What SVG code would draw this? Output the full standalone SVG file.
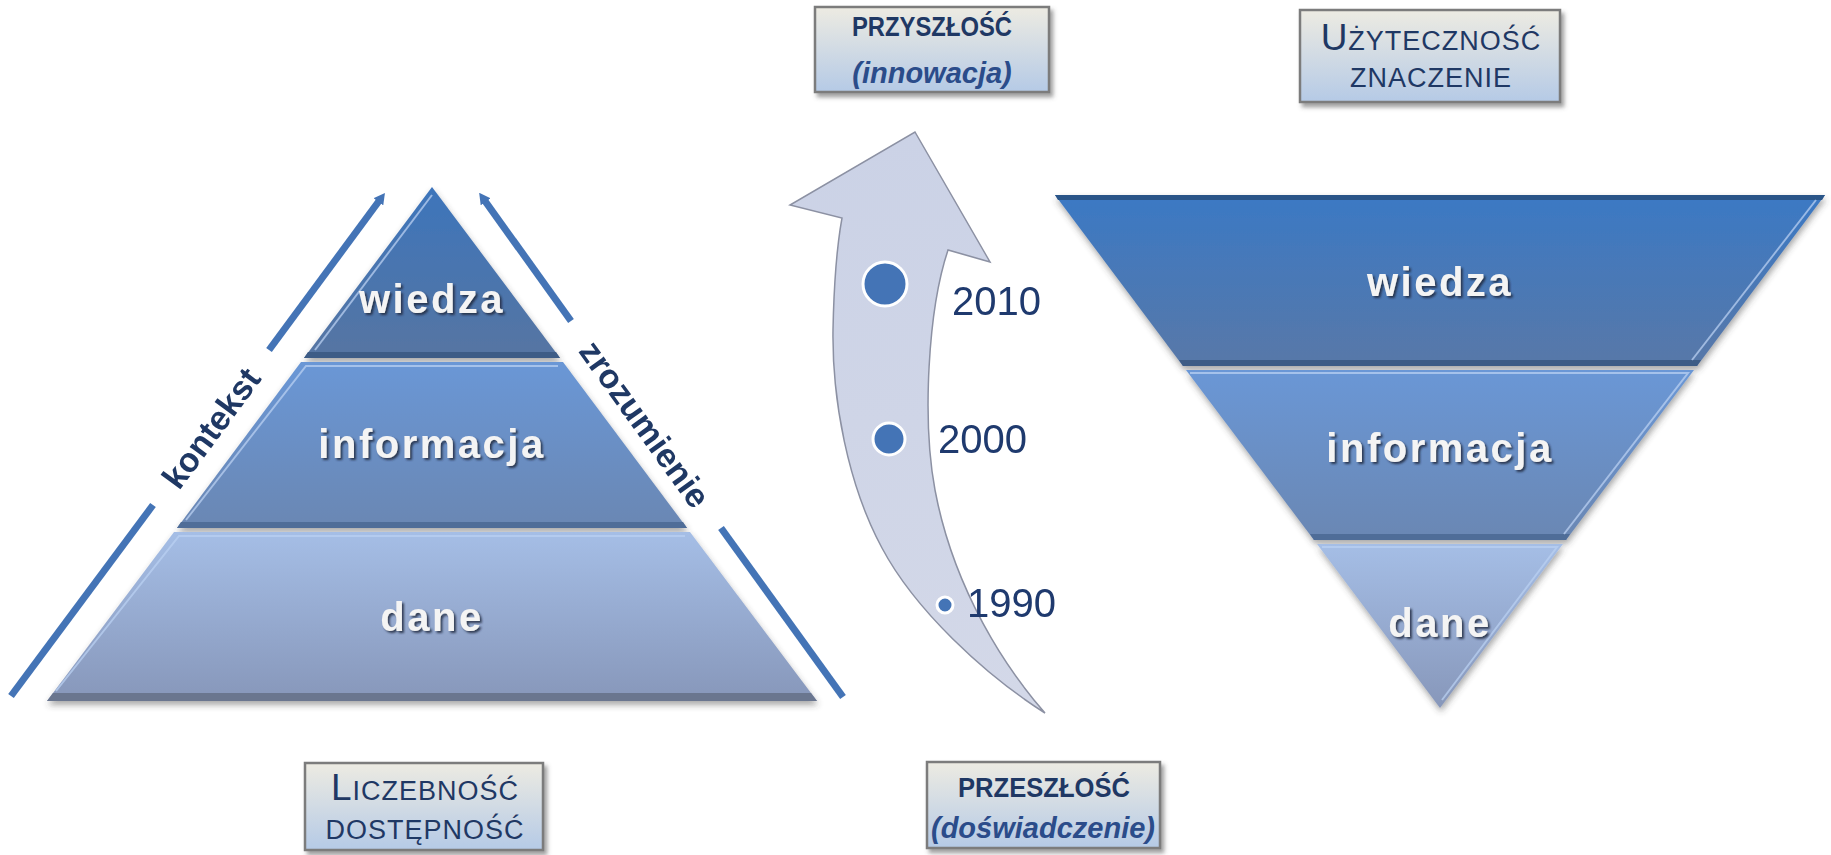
<svg xmlns="http://www.w3.org/2000/svg" width="1831" height="855" viewBox="0 0 1831 855">
<defs>
<linearGradient id="gW" x1="0" y1="0" x2="0" y2="1"><stop offset="0" stop-color="#3d74bb"/><stop offset="1" stop-color="#5675a2"/></linearGradient>
<linearGradient id="gI" x1="0" y1="0" x2="0" y2="1"><stop offset="0" stop-color="#6a97d6"/><stop offset="1" stop-color="#6b87b3"/></linearGradient>
<linearGradient id="gD" x1="0" y1="0" x2="0" y2="1"><stop offset="0" stop-color="#a5bee6"/><stop offset="1" stop-color="#8797ba"/></linearGradient>
<linearGradient id="gW2" x1="0" y1="0" x2="0" y2="1"><stop offset="0" stop-color="#3b79c4"/><stop offset="1" stop-color="#5878a8"/></linearGradient>
<linearGradient id="gBox" x1="0" y1="0" x2="0" y2="1"><stop offset="0" stop-color="#edebe2"/><stop offset="1" stop-color="#b5cae6"/></linearGradient>
<linearGradient id="gArrow" x1="0" y1="0" x2="0" y2="1"><stop offset="0" stop-color="#cbd2e6"/><stop offset="1" stop-color="#d3d8e8"/></linearGradient>
<filter id="shadow" x="-10%" y="-10%" width="125%" height="130%"><feDropShadow dx="1" dy="4" stdDeviation="3" flood-color="#404040" flood-opacity="0.45"/></filter>
<filter id="boxShadow" x="-10%" y="-10%" width="125%" height="135%"><feDropShadow dx="3" dy="4" stdDeviation="2" flood-color="#505050" flood-opacity="0.55"/></filter>
<filter id="txtShadow" x="-10%" y="-20%" width="125%" height="150%"><feDropShadow dx="2" dy="2" stdDeviation="1.3" flood-color="#1c2940" flood-opacity="0.85"/></filter>
<marker id="arrowHead" viewBox="0 -6 11 12" refX="1" refY="0" markerWidth="11" markerHeight="12" markerUnits="userSpaceOnUse" orient="auto"><path d="M0,-6 L11,0 L0,6 z" fill="#4474b6"/></marker>
</defs>
<style>
.tier-label{font-family:"Liberation Sans",Arial,sans-serif;font-weight:bold;font-size:40px;letter-spacing:2.5px;fill:#f4f4f4;text-anchor:middle;filter:url(#txtShadow)}
.side{stroke:#4474b6;stroke-width:7;fill:none}
.side-label{font-family:"Liberation Sans",Arial,sans-serif;font-weight:bold;font-size:34px;fill:#1f3864;text-anchor:middle}
.box{fill:url(#gBox);stroke:#7b7b7b;stroke-width:2.5;filter:url(#boxShadow)}
.bold-cap{font-family:"Liberation Sans",Arial,sans-serif;font-weight:bold;font-size:27px;fill:#1f3864;text-anchor:middle}
.ital{font-family:"Liberation Sans",Arial,sans-serif;font-weight:bold;font-style:italic;font-size:29px;fill:#2b4c8a;text-anchor:middle}
.smallcap{font-family:"Liberation Sans",Arial,sans-serif;font-size:27px;letter-spacing:1px;fill:#1f3864;text-anchor:middle}
.cap{font-size:37px}
.year{font-family:"Liberation Sans",Arial,sans-serif;font-size:40px;fill:#1f3a6e}
.dot{fill:#4474b6;stroke:#ffffff;stroke-width:3}
.hl{fill:none;stroke:#b9d0f2;stroke-width:2;stroke-opacity:0.75}
</style>
<rect width="1831" height="855" fill="#ffffff"/>

<g id="pyramid" filter="url(#shadow)">
  <g id="pyr-wiedza">
    <polygon points="432,187 560,358 304,358" fill="url(#gW)"/>
    <polygon points="308,352 556,352 560,358 304,358" fill="#3d5b86"/>
    <polyline class="hl" points="315,350 432,195"/>
    <text class="tier-label" x="432" y="313">wiedza</text>
  </g>
  <g id="pyr-informacja">
    <polygon points="301,362 563,362 687,528 177,528" fill="url(#gI)"/>
    <polygon points="181,522 683,522 687,528 177,528" fill="#4f6d98"/>
    <polyline class="hl" points="186,520 306,366 558,366"/>
    <text class="tier-label" x="432" y="458">informacja</text>
  </g>
  <g id="pyr-dane">
    <polygon points="174,532 690,532 817,701 47,701" fill="url(#gD)"/>
    <polygon points="53,693 811,693 817,701 47,701" fill="#6b768f"/>
    <polyline class="hl" points="56,691 179,536 685,536"/>
    <text class="tier-label" x="432" y="631">dane</text>
  </g>
</g>

<g id="inverted" filter="url(#shadow)">
  <g id="inv-wiedza">
    <polygon points="1055,195 1825,195 1697,366 1183,366" fill="url(#gW2)"/>
    <polygon points="1055,195 1825,195 1822,200 1058,200" fill="#2c5488"/>
    <polygon points="1179,360 1701,360 1697,366 1183,366" fill="#3d5b86"/>
    <polyline class="hl" points="1816,200 1692,360"/>
    <text class="tier-label" x="1440" y="296">wiedza</text>
  </g>
  <g id="inv-informacja">
    <polygon points="1186,370 1694,370 1566,540 1314,540" fill="url(#gI)"/>
    <polygon points="1310,534 1570,534 1566,540 1314,540" fill="#4f6d98"/>
    <polyline class="hl" points="1190,373 1688,373 1564,534"/>
    <text class="tier-label" x="1440" y="462">informacja</text>
  </g>
  <g id="inv-dane">
    <polygon points="1317,544 1563,544 1440,708" fill="url(#gD)"/>
    <polyline class="hl" points="1322,547 1557,547 1442,700"/>
    <text class="tier-label" x="1440" y="637">dane</text>
  </g>
</g>

<g id="connectors">
  <line class="side" x1="11" y1="696" x2="153" y2="505"/>
  <line class="side" x1="269" y1="350" x2="379" y2="201" marker-end="url(#arrowHead)"/>
  <line class="side" x1="843" y1="697" x2="721" y2="528"/>
  <line class="side" x1="571" y1="321" x2="485" y2="201" marker-end="url(#arrowHead)"/>
  <path id="timeline-arrow" d="M915,132 L990,262 L948,250 C928,310 922,420 935,490 C950,570 990,650 1045,713 C985,675 915,610 882,548 C848,485 832,400 833,330 C834,280 838,240 842,218 L790,205 Z" fill="url(#gArrow)" stroke="#8c91a3" stroke-width="1.5"/>
</g>

<g id="label-kontekst">
  <text class="side-label" transform="translate(211,428) rotate(-53.5)" y="12">kontekst</text>
</g>
<g id="label-zrozumienie">
  <text class="side-label" transform="translate(645,424) rotate(54.2)" y="12">zrozumienie</text>
</g>

<g id="year-2010">
  <circle class="dot" cx="885" cy="284" r="22"/>
  <text class="year" x="952" y="315">2010</text>
</g>
<g id="year-2000">
  <circle class="dot" cx="889" cy="439" r="16"/>
  <text class="year" x="938" y="453">2000</text>
</g>
<g id="year-1990">
  <circle class="dot" cx="945" cy="605" r="8"/>
  <text class="year" x="967" y="617">1990</text>
</g>

<g id="box-przyszlosc">
  <rect class="box" x="815" y="7" width="234" height="85"/>
  <text class="bold-cap" x="932" y="36" textLength="160" lengthAdjust="spacingAndGlyphs">PRZYSZŁOŚĆ</text>
  <text class="ital" x="932" y="83">(innowacja)</text>
</g>
<g id="box-uzytecznosc">
  <rect class="box" x="1300" y="10" width="260" height="92"/>
  <text class="smallcap" x="1431" y="50"><tspan class="cap">U</tspan>ŻYTECZNOŚĆ</text>
  <text class="smallcap" x="1431" y="87">ZNACZENIE</text>
</g>
<g id="box-liczebnosc">
  <rect class="box" x="305" y="763" width="238" height="87"/>
  <text class="smallcap" x="425" y="800"><tspan class="cap">L</tspan>ICZEBNOŚĆ</text>
  <text class="smallcap" x="425" y="839">DOSTĘPNOŚĆ</text>
</g>
<g id="box-przeszlosc">
  <rect class="box" x="927" y="762" width="233" height="86"/>
  <text class="bold-cap" x="1044" y="797" textLength="172" lengthAdjust="spacingAndGlyphs">PRZESZŁOŚĆ</text>
  <text class="ital" x="1043" y="838">(doświadczenie)</text>
</g>
</svg>
